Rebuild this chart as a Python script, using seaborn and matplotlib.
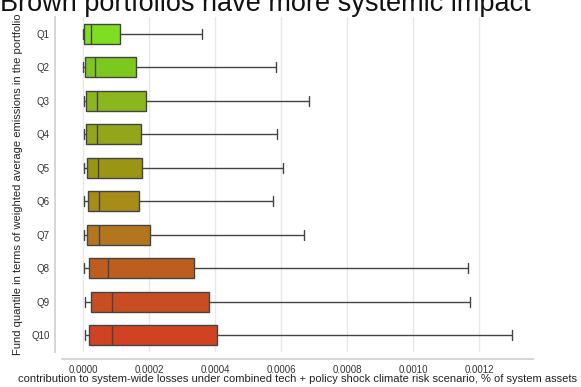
import numpy as np
import pandas as pd
import matplotlib
matplotlib.use("Agg")
import matplotlib.pyplot as plt
import seaborn as sns

# Data (box summary per fund quantile)
quantiles = ["Q1", "Q2", "Q3", "Q4", "Q5", "Q6", "Q7", "Q8", "Q9", "Q10"]
whisker_low = [0.0, 0.0, 0.000002, 0.000002, 0.000002, 0.000003, 0.000003, 0.000004, 0.000007, 0.000005]
q1_vals = [0.000004, 0.000007, 0.000010, 0.000010, 0.000012, 0.000015, 0.000013, 0.000019, 0.000023, 0.000019]
medians = [0.000024, 0.000037, 0.000041, 0.000041, 0.000045, 0.000048, 0.000048, 0.000077, 0.000089, 0.000089]
q3_vals = [0.000113, 0.000160, 0.000190, 0.000176, 0.000178, 0.000169, 0.000204, 0.000336, 0.000382, 0.000405]
whisker_high = [0.000362, 0.000586, 0.000685, 0.000588, 0.000607, 0.000575, 0.000670, 0.001166, 0.001173, 0.001299]
colors = ["#7FDD22", "#7CC81E", "#8AB61E", "#93A61A", "#9A9515",
          "#A88C18", "#B3761E", "#BD5E1E", "#C84E22", "#D04221"]

title = "Brown portfolios have more systemic impact"
xlabel = "contribution to system-wide losses under combined tech + policy shock climate risk scenario, % of system assets"
ylabel = "Fund quantile in terms of weighted average emissions in the portfolio"

rows = []
for q, a, b, c, d, e in zip(quantiles, whisker_low, q1_vals, medians, q3_vals, whisker_high):
    for v in (a, b, c, d, e):
        rows.append({"quantile": q, "value": v})
df = pd.DataFrame(rows)

sns.set_theme(style="whitegrid")
plt.rcParams["font.family"] = ["Liberation Sans", "DejaVu Sans"]

fig = plt.figure(figsize=(5.81, 3.87), dpi=100)
ax = fig.add_axes([62 / 581, 1 - 352 / 387, (533 - 62) / 581, (352 - 17) / 387])

sns.boxplot(data=df, x="value", y="quantile", hue="quantile", order=quantiles,
            hue_order=quantiles, palette=colors, saturation=1, whis=(0, 100),
            width=0.6, linewidth=1, linecolor="#444444", legend=False, ax=ax)

ax.set_xlim(-0.0000636, 0.001364)
ax.set_xticks([0.0, 0.0002, 0.0004, 0.0006, 0.0008, 0.0010, 0.0012])
ax.set_xticklabels(["0.0000", "0.0002", "0.0004", "0.0006", "0.0008", "0.0010", "0.0012"])
ax.tick_params(axis="x", labelsize=7, colors="#333333", size=0, pad=4.5)
ax.tick_params(axis="y", labelsize=7, colors="#333333", size=0, pad=4)
ax.set_xlabel(xlabel, fontsize=8, color="#222222", labelpad=-0.5)
ax.set_ylabel(ylabel, fontsize=8, color="#222222", labelpad=6)
ax.grid(axis="x", color="#e8e8e8", linewidth=1)
sns.despine(ax=ax, offset=5)
for s in ax.spines.values():
    s.set_color("#d0d0d0")

fig.text(0.0, 1 - 11 / 387, title, fontsize=19.5, ha="left", va="baseline", color="#111111")

fig.savefig("out.png", dpi=100)
